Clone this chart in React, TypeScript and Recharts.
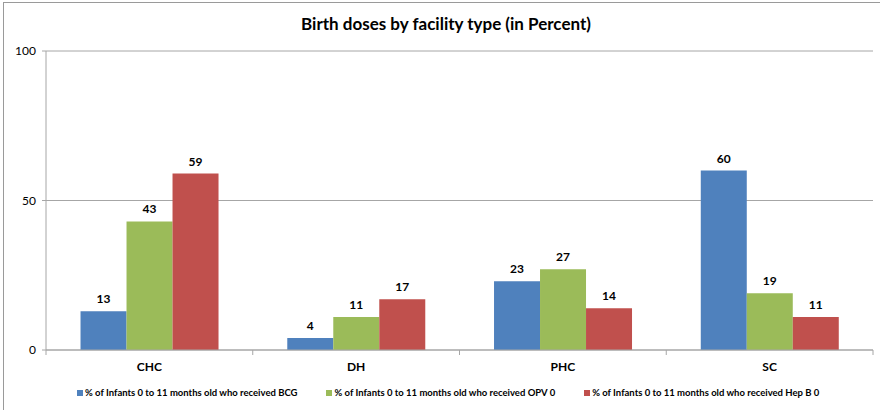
import React from 'react';
import { BarChart, Bar, XAxis, YAxis, CartesianGrid, LabelList } from 'recharts';

const title = 'Birth doses by facility type (in Percent)';
const categories = ['CHC', 'DH', 'PHC', 'SC'];
const bcgValues = [13, 4, 23, 60];
const opvValues = [43, 11, 27, 19];
const hepbValues = [59, 17, 14, 11];
const seriesNames = [
  '% of Infants 0 to 11 months old who received BCG',
  '% of Infants 0 to 11 months old who received OPV 0',
  '% of Infants 0 to 11 months old who received Hep B 0',
];
const seriesColors = ['#4F81BD', '#9BBB59', '#C0504D'];
const yTicks = [0, 50, 100];

const data = categories.map((c, i) => ({
  category: c,
  bcg: bcgValues[i],
  opv: opvValues[i],
  hepb: hepbValues[i],
}));

const FONT = 'Lato, "Open Sans", sans-serif';
const AXIS_GRAY = '#A6A6A6';

const CategoryTick = (props: any) => {
  const { x, y, payload, index } = props;
  const half = payload && payload.offset ? payload.offset : 0;
  const last = index === categories.length - 1;
  return (
    <g>
      <line x1={x - half} x2={x - half} y1={y} y2={y + 5} stroke={AXIS_GRAY} />
      {last && <line x1={x + half} x2={x + half} y1={y} y2={y + 5} stroke={AXIS_GRAY} />}
      <text x={x} y={y + 21} textAnchor="middle" fontFamily={FONT} fontWeight="bold" fontSize={12} fill="#000">
        {payload.value}
      </text>
    </g>
  );
};

const labelStyle = { fontFamily: FONT, fontWeight: 'bold', fontSize: 12, fill: '#000' } as any;

export default function App() {
  return (
    <div style={{ position: 'absolute', left: 0, top: 0, width: 880, height: 410, overflow: 'hidden', background: '#fff' }}>
      <div style={{ position: 'absolute', left: 3, top: 2, width: 877, height: 430, border: '1px solid #9A9A9A' }} />
      <div style={{ position: 'absolute', left: 0, top: 13, width: 892, textAlign: 'center', fontFamily: FONT, fontWeight: 'bold', fontSize: 17, color: '#000' }}>
        {title}
      </div>
      <div style={{ position: 'absolute', left: 0, top: 0 }}>
        <BarChart width={880} height={410} data={data} margin={{ top: 51, right: 7, left: 0, bottom: 30 }} barCategoryGap="16.7%" barGap={0}>
          <CartesianGrid vertical={false} stroke={AXIS_GRAY} />
          <XAxis dataKey="category" height={30} axisLine={{ stroke: AXIS_GRAY }} tickLine={false} tickSize={0} tickMargin={0} tick={<CategoryTick />} interval={0} />
          <YAxis domain={[0, 100]} ticks={yTicks} width={46} axisLine={{ stroke: AXIS_GRAY }} tickLine={{ stroke: AXIS_GRAY }} tickSize={4} tickMargin={6} tick={{ fontFamily: FONT, fontSize: 12, fill: '#000' }} />
          <Bar dataKey="bcg" name={seriesNames[0]} fill={seriesColors[0]} isAnimationActive={false}>
            <LabelList dataKey="bcg" position="top" offset={8} style={labelStyle} />
          </Bar>
          <Bar dataKey="opv" name={seriesNames[1]} fill={seriesColors[1]} isAnimationActive={false}>
            <LabelList dataKey="opv" position="top" offset={8} style={labelStyle} />
          </Bar>
          <Bar dataKey="hepb" name={seriesNames[2]} fill={seriesColors[2]} isAnimationActive={false}>
            <LabelList dataKey="hepb" position="top" offset={8} style={labelStyle} />
          </Bar>
        </BarChart>
      </div>
      <div style={{ position: 'absolute', left: 77, top: 387, display: 'flex', gap: 29, fontFamily: FONT, fontSize: 9.5, fontWeight: 'bold', color: '#000', whiteSpace: 'nowrap' }}>
        {seriesNames.map((name, i) => (
          <div key={name} style={{ display: 'flex', alignItems: 'center' }}>
            <span style={{ display: 'inline-block', width: 6, height: 6, background: seriesColors[i], marginRight: 2 }} />
            <span>{name}</span>
          </div>
        ))}
      </div>
    </div>
  );
}
